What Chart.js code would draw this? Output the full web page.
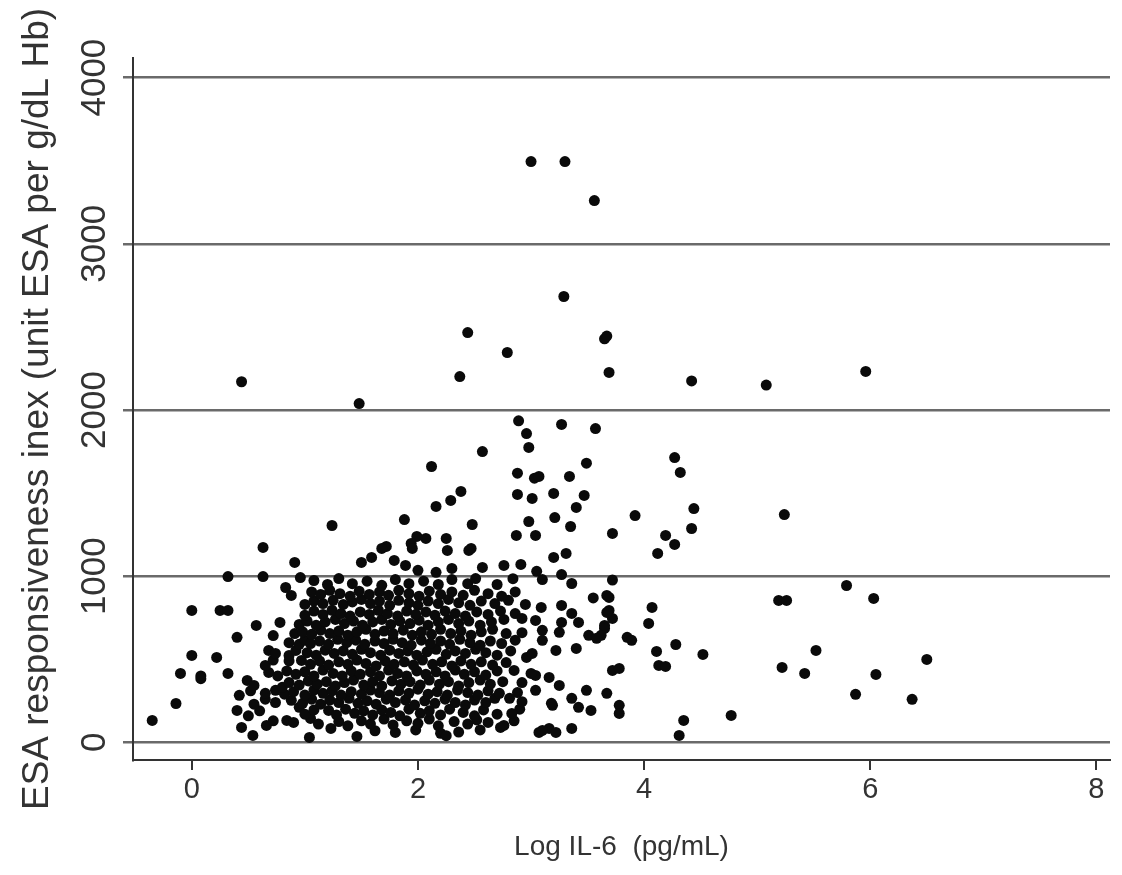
<!DOCTYPE html>
<html>
<head>
<meta charset="utf-8">
<script src="https://cdn.jsdelivr.net/npm/chart.js@4.4.1/dist/chart.umd.min.js"></script>
<style>
  html, body { margin: 0; padding: 0; background: #fff; }
  #wrap { width: 1122px; height: 875px; }
</style>
</head>
<body>
<div id="wrap"><canvas id="chart"></canvas></div>
<script>
const xTicks = [0, 2, 4, 6, 8];
const yTicks = [0, 1000, 2000, 3000, 4000];

// [log IL-6, ESA responsiveness index]
const outliers = [
  [0.44, 2170], [1.48, 2039], [3.0, 3495], [3.3, 3495], [3.56, 3260], [3.29, 2683],
  [2.44, 2466], [2.79, 2346], [2.37, 2201], [3.65, 2428], [3.67, 2445], [3.69, 2226],
  [4.42, 2175], [5.08, 2150], [5.96, 2232], [2.89, 1935], [2.96, 1858], [2.98, 1775],
  [3.27, 1913], [3.57, 1888], [2.57, 1750], [2.12, 1660], [3.49, 1680], [2.88, 1620],
  [3.03, 1590], [3.07, 1600], [3.34, 1600], [2.38, 1510], [4.27, 1714], [4.32, 1624]
];

const spread = [
  [2.29, 1456], [2.16, 1420], [1.88, 1341], [2.48, 1311], [1.24, 1305], [1.99, 1239],
  [2.07, 1227], [1.94, 1197], [2.25, 1227], [1.72, 1179], [2.47, 1167], [2.88, 1492],
  [3.01, 1468], [3.2, 1498], [3.47, 1486], [3.4, 1414], [2.98, 1329], [3.21, 1353],
  [3.35, 1299], [2.87, 1245], [3.04, 1245], [3.72, 1257], [3.2, 1113], [3.31, 1137],
  [2.91, 1071], [2.76, 1065], [3.05, 1029], [3.27, 1010], [4.44, 1407], [4.42, 1287],
  [3.92, 1365], [4.19, 1245], [4.27, 1191], [4.12, 1137], [5.24, 1371], [0.91, 1083],
  [0.63, 1173], [1.68, 1167], [1.95, 1167], [2.26, 1155], [2.45, 1155], [1.79, 1095],
  [2.0, 1035], [2.3, 1047], [2.57, 1053], [2.16, 1023], [1.89, 1065], [1.5, 1083],
  [1.59, 1113], [0.32, 998], [0.63, 998]
];

const leftTail = [
  [-0.35, 132], [-0.14, 234], [-0.1, 415], [0.0, 523], [0.08, 400], [0.08, 383],
  [0.22, 511], [0.0, 794], [0.25, 794], [0.32, 794], [0.32, 415], [0.4, 632],
  [0.57, 704], [0.78, 722], [0.72, 643], [0.91, 655]
];

const rightTail = [
  [3.72, 977], [3.69, 872], [3.69, 794], [3.72, 746], [3.65, 686], [3.62, 644],
  [4.07, 812], [4.04, 716], [3.85, 632], [3.89, 614], [4.11, 547], [4.28, 589],
  [4.52, 529], [4.13, 463], [4.19, 457], [3.72, 433], [3.78, 445], [3.67, 295],
  [3.78, 223], [3.78, 174], [4.35, 132], [4.31, 42], [4.77, 162], [5.19, 854],
  [5.26, 854], [5.79, 944], [6.03, 866], [5.52, 553], [5.22, 451], [5.42, 415],
  [6.05, 409], [5.87, 289], [6.5, 499], [6.37, 259], [3.55, 869], [3.51, 644],
  [3.58, 626], [3.67, 884], [3.67, 782], [3.65, 704]
];

const midBand = [
  [3.36, 956], [3.1, 980], [3.4, 565], [3.27, 824], [3.36, 776], [3.42, 722],
  [3.27, 722], [3.25, 662], [3.09, 812], [3.04, 734], [3.1, 674], [2.92, 746],
  [3.22, 553], [3.1, 614], [2.96, 511], [3.01, 535], [2.85, 433], [3.04, 403],
  [3.16, 391], [3.25, 343], [3.04, 313], [3.49, 313], [3.36, 265], [3.42, 211],
  [3.53, 192], [3.19, 223], [2.81, 265], [2.83, 174], [2.76, 102], [3.07, 60],
  [3.16, 84], [3.22, 60], [3.36, 84], [3.0, 415], [3.18, 235], [3.1, 72]
];

const coreBottom = [
  [0.44, 90], [0.54, 42], [0.66, 102], [0.84, 132], [1.04, 30], [1.23, 84], [1.46, 36],
  [1.62, 70], [1.8, 60], [1.98, 75], [2.2, 55], [2.25, 40], [2.36, 62], [2.55, 75], [2.73, 90],
  [0.72, 130], [0.9, 120], [1.05, 144], [1.12, 110], [1.3, 125], [1.38, 100], [1.5, 130],
  [1.58, 110], [1.7, 140], [1.78, 105], [1.9, 130], [2.0, 115], [2.1, 140], [2.18, 100],
  [2.32, 125], [2.44, 110], [2.52, 135], [2.62, 120], [2.85, 130],
  [0.4, 192], [0.5, 160], [0.6, 190], [0.95, 211], [1.0, 170], [1.08, 195], [1.21, 192],
  [1.28, 165], [1.36, 200], [1.44, 175], [1.52, 190], [1.6, 165], [1.68, 195], [1.76, 180],
  [1.84, 160], [1.92, 200], [2.02, 175], [2.1, 190], [2.2, 165], [2.28, 200], [2.4, 180],
  [2.5, 160], [2.58, 195], [2.7, 170], [2.9, 200],
  [0.55, 230], [0.65, 260], [0.74, 240], [0.88, 253], [0.98, 235], [1.06, 260], [1.14, 230],
  [1.22, 255], [1.3, 240], [1.39, 265], [1.47, 235], [1.55, 250], [1.63, 230], [1.72, 260],
  [1.8, 240], [1.89, 255], [1.97, 225], [2.06, 250], [2.15, 235], [2.24, 260], [2.33, 240],
  [2.42, 225], [2.5, 255], [2.6, 240], [2.68, 265], [2.92, 245],
  [0.42, 283], [0.52, 310], [0.65, 295], [0.74, 313], [0.82, 290], [0.9, 305], [1.0, 285],
  [1.08, 315], [1.16, 295], [1.24, 310], [1.32, 285], [1.41, 305], [1.5, 290], [1.58, 315],
  [1.66, 300], [1.75, 285], [1.83, 310], [1.92, 295], [2.0, 320], [2.09, 290], [2.17, 305],
  [2.26, 285], [2.35, 315], [2.44, 300], [2.53, 285], [2.62, 310], [2.72, 295], [2.88, 300]
];

const coreLower = [
  [0.49, 373], [0.55, 343], [0.8, 331], [0.86, 360], [0.95, 345], [1.03, 370], [1.11, 350],
  [1.19, 365], [1.27, 340], [1.35, 360], [1.43, 375], [1.52, 345], [1.6, 365], [1.68, 340],
  [1.77, 370], [1.85, 350], [1.93, 365], [2.02, 345], [2.1, 375], [2.19, 350], [2.27, 365],
  [2.36, 340], [2.45, 360], [2.55, 375], [2.64, 350], [2.75, 365], [2.92, 360],
  [0.68, 421], [0.76, 400], [0.84, 430], [0.92, 410], [1.0, 425], [1.08, 400], [1.16, 435],
  [1.25, 415], [1.33, 400], [1.41, 430], [1.49, 410], [1.58, 425], [1.66, 400], [1.74, 435],
  [1.82, 415], [1.9, 400], [1.99, 430], [2.07, 410], [2.16, 425], [2.24, 400], [2.33, 435],
  [2.41, 410], [2.5, 425], [2.6, 405], [2.7, 430],
  [0.65, 463], [0.72, 495], [0.86, 490], [0.97, 493], [1.05, 470], [1.13, 490], [1.21, 465],
  [1.3, 485], [1.38, 470], [1.46, 495], [1.54, 475], [1.63, 460], [1.71, 490], [1.79, 470],
  [1.88, 485], [1.96, 465], [2.04, 495], [2.13, 470], [2.21, 485], [2.3, 460], [2.38, 490],
  [2.47, 470], [2.56, 485], [2.66, 465], [2.78, 480],
  [0.68, 553], [0.74, 535], [0.86, 523], [0.92, 553], [1.02, 540], [1.1, 525], [1.18, 555],
  [1.26, 535], [1.34, 550], [1.42, 530], [1.5, 560], [1.58, 540], [1.67, 525], [1.75, 555],
  [1.83, 535], [1.91, 550], [1.99, 525], [2.08, 545], [2.16, 560], [2.25, 530], [2.33, 550],
  [2.42, 535], [2.51, 560], [2.6, 540], [2.7, 525], [2.82, 550],
  [0.86, 600], [0.95, 590], [1.0, 615], [1.05, 595], [1.13, 610], [1.21, 590], [1.29, 620],
  [1.37, 600], [1.45, 615], [1.53, 590], [1.62, 610], [1.7, 595], [1.78, 620], [1.86, 600],
  [1.94, 585], [2.03, 615], [2.11, 595], [2.2, 610], [2.28, 590], [2.37, 620], [2.46, 600],
  [2.55, 585], [2.64, 610], [2.74, 595], [2.86, 615]
];

const coreUpper = [
  [0.98, 665], [1.06, 650], [1.14, 675], [1.22, 655], [1.3, 670], [1.38, 645], [1.46, 665],
  [1.54, 680], [1.62, 650], [1.7, 670], [1.78, 655], [1.87, 675], [1.95, 645], [2.03, 665],
  [2.12, 650], [2.2, 680], [2.29, 655], [2.38, 670], [2.47, 645], [2.56, 665], [2.66, 680],
  [2.78, 655], [2.92, 660],
  [0.95, 710], [1.02, 730], [1.1, 705], [1.18, 725], [1.27, 740], [1.35, 715], [1.43, 730],
  [1.51, 705], [1.6, 725], [1.68, 740], [1.76, 710], [1.84, 730], [1.93, 715], [2.01, 735],
  [2.09, 705], [2.18, 725], [2.27, 740], [2.36, 715], [2.45, 730], [2.55, 705], [2.65, 725],
  [2.76, 740],
  [1.0, 765], [1.08, 790], [1.16, 770], [1.24, 795], [1.32, 775], [1.4, 760], [1.49, 785],
  [1.57, 770], [1.65, 795], [1.73, 775], [1.82, 760], [1.9, 790], [1.98, 770], [2.07, 785],
  [2.15, 765], [2.24, 790], [2.33, 775], [2.42, 760], [2.52, 785], [2.62, 770], [2.73, 790],
  [2.86, 775],
  [1.0, 830], [1.08, 850], [1.16, 835], [1.25, 855], [1.34, 830], [1.42, 845], [1.5, 860],
  [1.58, 835], [1.66, 850], [1.75, 825], [1.83, 855], [1.92, 840], [2.0, 825], [2.09, 850],
  [2.18, 835], [2.27, 860], [2.36, 840], [2.46, 825], [2.56, 850], [2.68, 835], [2.8, 855],
  [2.95, 830],
  [0.88, 884], [1.06, 905], [1.14, 890], [1.22, 915], [1.31, 895], [1.4, 880], [1.48, 910],
  [1.57, 890], [1.66, 905], [1.74, 885], [1.83, 915], [1.92, 895], [2.01, 880], [2.1, 910],
  [2.2, 890], [2.3, 905], [2.4, 885], [2.5, 915], [2.62, 895], [2.74, 880], [2.86, 905],
  [0.83, 932], [0.96, 992], [1.08, 974], [1.3, 986], [1.2, 950], [1.42, 955], [1.55, 970],
  [1.68, 945], [1.8, 980], [1.92, 955], [2.05, 970], [2.18, 950], [2.3, 980], [2.44, 955],
  [2.51, 986], [2.7, 950], [2.84, 985]
];

const regularFont = "'Liberation Sans', Arial, Helvetica, sans-serif";
const inkColor = '#333333';

const points = [].concat(leftTail, coreBottom, coreLower, coreUpper, spread, midBand, rightTail, outliers)
  .map(([x, y]) => ({ x, y }));

new Chart(document.getElementById('chart'), {
  type: 'scatter',
  data: {
    datasets: [{
      label: 'ESA responsiveness',
      data: points,
      backgroundColor: '#0a0a0a',
      borderWidth: 0,
      pointRadius: 5.5,
      pointHoverRadius: 5.5
    }]
  },
  options: {
    responsive: true,
    maintainAspectRatio: false,
    animation: false,
    layout: {
      padding: { top: 58, right: 12, left: 0, bottom: 0 }
    },
    plugins: {
      legend: { display: false },
      tooltip: { enabled: false }
    },
    scales: {
      x: {
        type: 'linear',
        min: -0.52,
        max: 8.12,
        afterBuildTicks: (scale) => { scale.ticks = xTicks.map((v) => ({ value: v })); },
        afterFit: (scale) => { scale.height = 115; },
        border: { display: true, color: inkColor, width: 2 },
        grid: {
          display: true,
          drawOnChartArea: false,
          drawTicks: true,
          tickLength: 10,
          color: inkColor,
          lineWidth: 2
        },
        ticks: {
          color: inkColor,
          font: { family: regularFont, size: 29 },
          padding: 3,
          maxRotation: 0,
          autoSkip: false
        },
        title: {
          display: true,
          text: 'Log IL-6  (pg/mL)',
          color: inkColor,
          font: { family: regularFont, size: 28 },
          padding: { top: 0, bottom: 11 }
        }
      },
      y: {
        type: 'linear',
        min: -106,
        max: 4118,
        afterBuildTicks: (scale) => { scale.ticks = yTicks.map((v) => ({ value: v })); },
        afterFit: (scale) => { scale.width = 133; },
        border: { display: true, color: inkColor, width: 2 },
        grid: {
          color: '#6a6a6a',
          lineWidth: 2.5,
          tickLength: 10
        },
        ticks: {
          color: inkColor,
          font: { family: regularFont, size: 35 },
          minRotation: 90,
          maxRotation: 90,
          crossAlign: 'center',
          padding: -11,
          autoSkip: false,
          callback: (v) => String(v)
        },
        title: {
          display: true,
          text: 'ESA responsiveness inex (unit ESA per g/dL Hb)',
          color: inkColor,
          font: { family: regularFont, size: 37 },
          padding: { top: 16, bottom: 0 }
        }
      }
    }
  }
});
</script>
</body>
</html>
